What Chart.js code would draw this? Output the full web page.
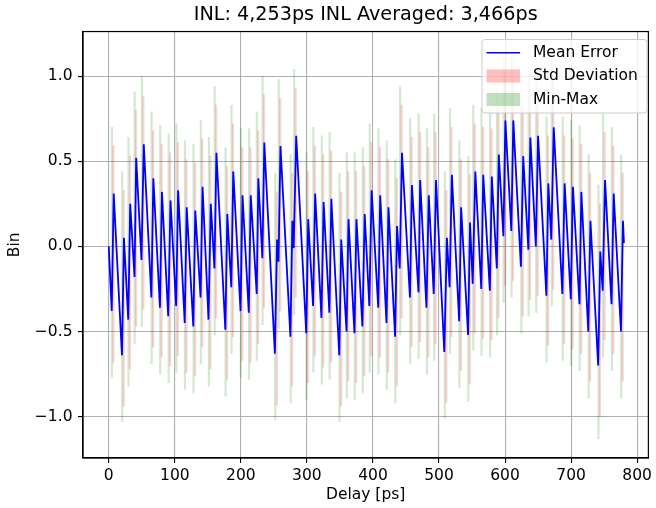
<!DOCTYPE html>
<html>
<head>
<meta charset="utf-8">
<script src="https://cdn.jsdelivr.net/npm/chart.js@4.4.0/dist/chart.umd.min.js"></script>
<style>
  html, body { margin: 0; padding: 0; background: #fff; }
  #wrap { width: 656px; height: 508px; }
</style>
</head>
<body>
<div id="wrap"><canvas id="inlChart" width="656" height="508"></canvas></div>
<script>
// mean error, one entry per corner of the zigzag
var meanX = [0, 4.5, 7.5, 20, 23, 29.5, 32.5, 39, 41.5, 49.5, 53, 64.5, 67.5, 77.5, 80.5, 90, 93.5,
	102, 105, 115, 118, 128, 131, 139, 142, 151, 154.5, 160, 163, 176.5, 179.5, 185.5, 188.5, 199.5, 202.5,
	212, 215, 224, 226.5, 232.5, 235.5, 251.5, 254.8, 257, 260, 275, 278, 280, 283.8, 299, 302,
	309.3, 312.5, 322, 325.3, 334, 337, 349, 352, 360, 363, 372, 375, 384, 387.5, 394.5, 398,
	408, 411, 420.5, 423.5, 433.5, 436.5, 440.5, 444, 456, 459, 469, 471.5, 481, 484.5, 492, 495.5,
	508, 512, 516, 519.5, 530.5, 533.5, 544, 547, 551, 555, 564, 567, 577, 580, 587.5, 590.5, 597.5, 600.5,
	609.5, 612.5, 624, 627.5, 635.3, 638.3, 646.6, 650, 662.6, 665.5, 670, 673.7, 686.8, 690.2, 699.5, 702.8,
	712.7, 715.5, 726, 729.3, 741, 744.2, 747.8, 751.4, 761.2, 764.5, 775.5, 778.5, 780];
var meanY = [0.00, -0.38, 0.31, -0.64, 0.05, -0.43, 0.25, -0.18, 0.52, -0.08, 0.60, -0.30, 0.40, -0.36, 0.32, -0.41, 0.27,
	-0.35, 0.33, -0.45, 0.23, -0.47, 0.21, -0.30, 0.35, -0.43, 0.25, -0.13, 0.55, -0.49, 0.19, -0.24, 0.44, -0.38, 0.30,
	-0.39, 0.30, -0.28, 0.40, -0.07, 0.61, -0.63, 0.04, -0.09, 0.59, -0.53, 0.15, -0.01, 0.65, -0.51, 0.16,
	-0.35, 0.31, -0.42, 0.26, -0.39, 0.28, -0.64, 0.04, -0.50, 0.16, -0.51, 0.16, -0.47, 0.19, -0.35, 0.33,
	-0.36, 0.30, -0.45, 0.23, -0.53, 0.12, -0.13, 0.55, -0.30, 0.36, -0.27, 0.39, -0.36, 0.30, -0.28, 0.39,
	-0.62, 0.05, -0.24, 0.42, -0.44, 0.23, -0.52, 0.14, -0.22, 0.44, -0.25, 0.42, -0.26, 0.41, -0.13, 0.54, 0.06, 0.74,
	0.09, 0.74, -0.12, 0.53, -0.02, 0.64, 0.00, 0.65, -0.29, 0.37, 0.04, 0.70, -0.28, 0.37, -0.31, 0.35,
	-0.34, 0.32, -0.50, 0.15, -0.70, -0.03, -0.26, 0.39, -0.34, 0.31, -0.50, 0.15, 0.02];

// spread at every code transition (the rising edges)
var riseX = [6, 21.5, 31, 40.3, 51.3, 66, 79, 91.8,
	103.5, 116.5, 129.5, 140.5, 152.8, 161.5, 178, 187,
	201, 213.5, 225.3, 234, 253.2, 258.5, 276.5, 281.9,
	300.5, 310.9, 323.7, 335.5, 350.5, 361.5, 373.5, 385.8,
	396.3, 409.5, 422, 435, 442.3, 457.5, 470.3, 482.8,
	493.8, 510, 517.8, 532, 545.5, 553, 565.5, 578.5,
	589, 599, 611, 625.8, 636.8, 648.3, 664, 671.9,
	688.5, 701.2, 714.1, 727.7, 742.6, 749.6, 762.9, 777];
var stdLow = [-0.68, -0.94, -0.72, -0.47, -0.37, -0.59, -0.65, -0.70,
	-0.64, -0.74, -0.76, -0.59, -0.72, -0.42, -0.78, -0.53,
	-0.67, -0.68, -0.57, -0.36, -0.93, -0.38, -0.82, -0.30,
	-0.80, -0.64, -0.71, -0.68, -0.94, -0.79, -0.80, -0.76,
	-0.64, -0.65, -0.74, -0.82, -0.42, -0.59, -0.56, -0.65,
	-0.57, -0.92, -0.53, -0.73, -0.81, -0.51, -0.54, -0.55,
	-0.42, -0.23, -0.20, -0.41, -0.31, -0.29, -0.58, -0.25,
	-0.57, -0.60, -0.63, -0.79, -1.00, -0.55, -0.63, -0.79];
var stdHigh = [0.59, 0.33, 0.53, 0.80, 0.88, 0.68, 0.60, 0.55,
	0.61, 0.51, 0.49, 0.63, 0.53, 0.83, 0.47, 0.72,
	0.58, 0.58, 0.68, 0.89, 0.32, 0.87, 0.43, 0.93,
	0.44, 0.59, 0.54, 0.56, 0.32, 0.44, 0.44, 0.47,
	0.61, 0.58, 0.51, 0.40, 0.83, 0.64, 0.67, 0.58,
	0.67, 0.33, 0.70, 0.51, 0.42, 0.72, 0.70, 0.69,
	0.82, 1.02, 1.02, 0.81, 0.92, 0.93, 0.65, 0.98,
	0.65, 0.63, 0.60, 0.43, 0.25, 0.67, 0.59, 0.43];
var minVal = [-0.77, -1.03, -0.82, -0.57, -0.47, -0.69, -0.75, -0.80,
	-0.74, -0.84, -0.86, -0.69, -0.82, -0.52, -0.88, -0.63,
	-0.77, -0.78, -0.67, -0.46, -1.02, -0.48, -0.92, -0.40,
	-0.90, -0.74, -0.81, -0.78, -1.03, -0.89, -0.90, -0.86,
	-0.74, -0.75, -0.84, -0.92, -0.52, -0.69, -0.66, -0.75,
	-0.67, -1.01, -0.63, -0.83, -0.91, -0.61, -0.64, -0.65,
	-0.52, -0.33, -0.30, -0.51, -0.41, -0.39, -0.68, -0.35,
	-0.67, -0.70, -0.73, -0.89, -1.13, -0.65, -0.73, -0.89];
var maxVal = [0.70, 0.44, 0.64, 0.91, 1.00, 0.79, 0.71, 0.66,
	0.72, 0.62, 0.60, 0.74, 0.64, 0.94, 0.58, 0.83,
	0.69, 0.69, 0.79, 1.00, 0.43, 0.98, 0.54, 1.04,
	0.55, 0.70, 0.65, 0.67, 0.43, 0.55, 0.55, 0.58,
	0.72, 0.69, 0.62, 0.51, 0.94, 0.75, 0.78, 0.69,
	0.78, 0.44, 0.81, 0.62, 0.53, 0.83, 0.81, 0.80,
	0.93, 1.14, 1.13, 0.92, 1.03, 1.04, 0.76, 1.09,
	0.76, 0.74, 0.71, 0.54, 0.36, 0.78, 0.70, 0.54];

var xTicks = [0, 100, 200, 300, 400, 500, 600, 700, 800];
var yTicks = [-1.0, -0.5, 0.0, 0.5, 1.0];

var FONT = "'DejaVu Sans', sans-serif";

// top/right spines + legend box in the upper right corner
var framePlugin = {
	id: 'frame',
	afterLayout: function(chart){
		// center the title over the axes, not the whole canvas
		var t = chart.titleBlock;
		var a = chart.chartArea;
		t.left = a.left;
		t.right = a.right;
		t.width = a.right - a.left;
	},
	afterDraw: function(chart){
		var ctx = chart.ctx;
		var a = chart.chartArea;
		ctx.save();
		ctx.strokeStyle = '#000';
		ctx.lineWidth = 1.2;
		ctx.strokeRect(a.left, a.top, a.right - a.left, a.bottom - a.top);

		// legend
		var bx = 482, by = 39.5, bw = 165, bh = 73.5, r = 3;
		ctx.beginPath();
		ctx.moveTo(bx + r, by);
		ctx.arcTo(bx + bw, by, bx + bw, by + bh, r);
		ctx.arcTo(bx + bw, by + bh, bx, by + bh, r);
		ctx.arcTo(bx, by + bh, bx, by, r);
		ctx.arcTo(bx, by, bx + bw, by, r);
		ctx.closePath();
		ctx.fillStyle = 'rgba(255,255,255,0.8)';
		ctx.fill();
		ctx.strokeStyle = '#cccccc';
		ctx.lineWidth = 1;
		ctx.stroke();

		var rows = [
			{label: 'Mean Error', y: 52.7},
			{label: 'Std Deviation', y: 76},
			{label: 'Min-Max', y: 99.5}
		];
		ctx.strokeStyle = '#0000ff';
		ctx.lineWidth = 1.5;
		ctx.beginPath();
		ctx.moveTo(486.5, rows[0].y);
		ctx.lineTo(520, rows[0].y);
		ctx.stroke();
		ctx.fillStyle = 'rgba(255,0,0,0.25)';
		ctx.fillRect(486.5, rows[1].y - 6.5, 33.5, 13);
		ctx.fillStyle = 'rgba(0,128,0,0.25)';
		ctx.fillRect(486.5, rows[2].y - 6.5, 33.5, 13);

		ctx.fillStyle = '#000';
		ctx.font = '15.5px ' + FONT;
		ctx.textAlign = 'left';
		ctx.textBaseline = 'middle';
		rows.forEach(function(row){
			ctx.fillText(row.label, 533, row.y);
		});
		ctx.restore();
	}
};

var ctx = document.getElementById('inlChart');

var meanPoints = [];
meanX.forEach(function(x, i){ meanPoints.push({x: x, y: meanY[i]}); });
var stdBars = [];
var minMaxBars = [];
riseX.forEach(function(x, i){
	stdBars.push({x: x, y: [stdLow[i], stdHigh[i]]});
	minMaxBars.push({x: x, y: [minVal[i], maxVal[i]]});
});

var inlChart = new Chart(ctx, {
	data: {
		datasets: [{
			type: 'line',
			label: 'Mean Error',
			data: meanPoints,
			borderColor: '#0000ff',
			borderWidth: 1.8,
			pointRadius: 0,
			tension: 0,
			order: 0
		}, {
			type: 'bar',
			label: 'Min-Max',
			data: minMaxBars,
			backgroundColor: 'rgba(0,128,0,0.18)',
			barThickness: 1.5,
			order: 1
		}, {
			type: 'bar',
			label: 'Std Deviation',
			data: stdBars,
			backgroundColor: 'rgba(255,0,0,0.18)',
			barThickness: 1.5,
			order: 2
		}]
	},
	plugins: [framePlugin],
	options: {
		responsive: false,
		animation: false,
		devicePixelRatio: 1,
		layout: { padding: { left: 0, right: 3, top: 0, bottom: 0 } },
		plugins: {
			legend: { display: false },
			tooltip: { enabled: false },
			title: {
				display: true,
				text: 'INL: 4,253ps INL Averaged: 3,466ps',
				color: '#000',
				font: { family: FONT, size: 19.2, weight: 'normal' },
				padding: { top: 3, bottom: 5.5 }
			}
		},
		scales: {
			x: {
				type: 'linear',
				min: -39,
				max: 817,
				offset: false,
				afterBuildTicks: function(scale){
					scale.ticks = xTicks.map(function(v){ return {value: v}; });
				},
				afterFit: function(scale){ scale.height = 50; },
				ticks: {
					color: '#000',
					font: { family: FONT, size: 15.5 },
					padding: 4,
					maxRotation: 0,
					callback: function(v){ return String(v); }
				},
				grid: { color: '#b0b0b0', lineWidth: 1.1, tickLength: 5, tickColor: '#000', offset: false },
				border: { display: true, color: '#000', width: 1.2 },
				title: {
					display: true,
					text: 'Delay [ps]',
					color: '#000',
					font: { family: FONT, size: 15.5 },
					padding: { top: 0, bottom: 3.5 }
				}
			},
			y: {
				type: 'linear',
				min: -1.243,
				max: 1.262,
				afterBuildTicks: function(scale){
					scale.ticks = yTicks.map(function(v){ return {value: v}; });
				},
				afterFit: function(scale){ scale.width = 83; },
				ticks: {
					color: '#000',
					font: { family: FONT, size: 15.5 },
					padding: 5.5,
					callback: function(v){ return (v < 0 ? '\u2212' : '') + Math.abs(v).toFixed(1); }
				},
				grid: { color: '#b0b0b0', lineWidth: 1.1, tickLength: 5, tickColor: '#000' },
				border: { display: true, color: '#000', width: 1.2 },
				title: {
					display: true,
					text: 'Bin',
					color: '#000',
					font: { family: FONT, size: 15.5 },
					padding: { top: 5.5, bottom: 0 }
				}
			}
		}
	}
});
</script>
</body>
</html>
